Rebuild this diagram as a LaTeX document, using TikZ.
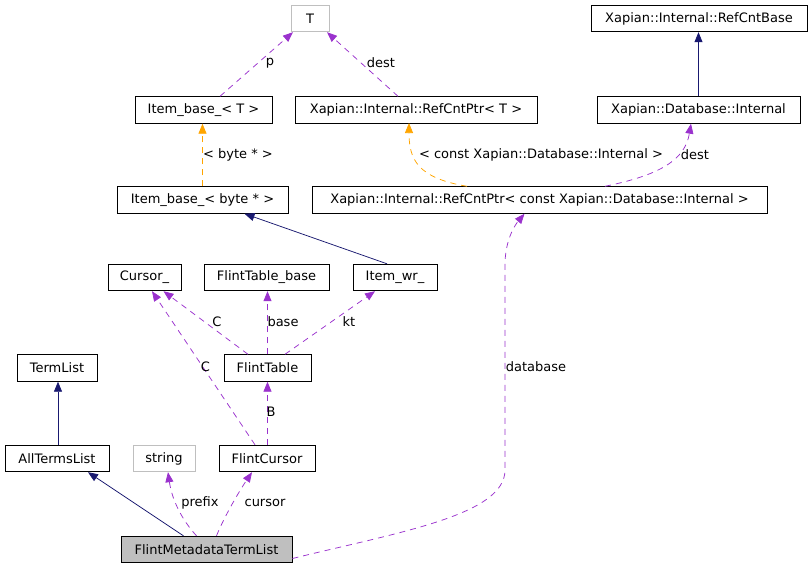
\documentclass[tikz,border=0pt]{standalone}
\usepackage{fontspec}
\setmainfont{DejaVu Sans}
\usetikzlibrary{arrows.meta}
\definecolor{dpurple}{HTML}{9A32CD}
\definecolor{dnavy}{HTML}{191970}
\definecolor{dorange}{HTML}{FFA500}
\definecolor{dgray}{HTML}{BFBFBF}
\tikzset{
  box/.style={draw=black, line width=0.9pt, inner sep=0pt, minimum height=26.5pt, font=\fontsize{13}{15}\selectfont},
  graybox/.style={box, draw=dgray},
  tip/.style={-{Triangle[length=10pt,width=8pt]}},
  pe/.style={tip, draw=dpurple, line width=0.75pt, dash pattern=on 6pt off 5pt},
  oe/.style={tip, draw=dorange, line width=0.75pt, dash pattern=on 6pt off 5pt},
  ne/.style={tip, draw=dnavy, line width=0.75pt},
  lbl/.style={inner sep=0pt, font=\fontsize{13}{15}\selectfont}
}
\begin{document}
\begin{tikzpicture}[x=1pt,y=-1pt]
\useasboundingbox (0,0) rectangle (812,568);
% nodes
\node[graybox, minimum width=38pt] (T) at (310,18.5) {T};
\node[box, minimum width=137pt] (ibT) at (203.5,110) {Item\_base\_< T >};
\node[box, minimum width=242pt] (rcpT) at (416,110) {Xapian::Internal::RefCntPtr< T >};
\node[box, minimum width=216pt] (rcb) at (699,18.5) {Xapian::Internal::RefCntBase};
\node[box, minimum width=203pt] (dbi) at (698.5,110) {Xapian::Database::Internal};
\node[box, minimum width=171pt] (ibb) at (202.5,200) {Item\_base\_< byte * >};
\node[box, minimum width=455pt] (rcpc) at (539.5,200) {Xapian::Internal::RefCntPtr< const Xapian::Database::Internal >};
\node[box, minimum width=73pt] (cur) at (144.5,277.5) {Cursor\_};
\node[box, minimum width=125pt] (ftb) at (266.5,277.5) {FlintTable\_base};
\node[box, minimum width=84pt] (iwr) at (395,277.5) {Item\_wr\_};
\node[box, minimum width=80pt] (tl) at (57,368) {TermList};
\node[box, minimum width=87pt] (ft) at (267.5,368) {FlintTable};
\node[box, minimum width=104pt] (atl) at (57,458.5) {AllTermsList};
\node[graybox, minimum width=62pt] (str) at (164,458.5) {string};
\node[box, minimum width=96pt] (fc) at (267,458.5) {FlintCursor};
\node[box, minimum width=171pt, fill=dgray] (fmtl) at (206.5,549.5) {FlintMetadataTermList};
% edges
\draw[pe] ([xshift=16.5pt]ibT.north) -- ([xshift=-17pt]T.south);
\draw[pe] ([xshift=-18pt]rcpT.north) -- ([xshift=17pt]T.south);
\draw[ne] (dbi.north) -- (dbi.north |- rcb.south);
\draw[oe] (ibb.north) -- (ibb.north |- ibT.south);
\draw[oe] ([xshift=-72.5pt]rcpc.north) .. controls (418,178) and (409,160) .. (409,123);
\draw[pe] ([xshift=65.5pt]rcpc.north) .. controls (660,175) and (685,160) .. ([xshift=-7.5pt]dbi.south);
\draw[ne] ([xshift=-8pt]iwr.north) -- ([xshift=42pt]ibb.south);
\draw[pe] ([xshift=-19.5pt]ft.north) -- ([xshift=19pt]cur.south);
\draw[pe] ([xshift=0pt]ft.north) -- (ft.north |- ftb.south);
\draw[pe] ([xshift=17.5pt]ft.north) -- ([xshift=-20pt]iwr.south);
\draw[pe] ([xshift=-12pt]fc.north) -- ([xshift=7.5pt]cur.south);
\draw[pe] (fc.north -| ft.north) -- (ft.south);
\draw[ne] ([xshift=1pt]atl.north) -- ([xshift=1pt]tl.south);
\draw[ne] ([xshift=-23pt]fmtl.north) -- ([xshift=31pt]atl.south);
\draw[pe] ([xshift=-10pt]fmtl.north) .. controls (182,520) and (172,500) .. ([xshift=4pt]str.south);
\draw[pe] ([xshift=10pt]fmtl.north) .. controls (225,515) and (240,490) .. ([xshift=-15pt]fc.south);
\draw[pe] ([yshift=-9pt]fmtl.east) .. controls (400,532) and (505,515) .. (505,470) -- (505,265) .. controls (505,240) and (515,225) .. ([xshift=-15pt]rcpc.south);
% labels
\node[lbl] (lp) at (270,63) {p};
\node[lbl] (ldest1) at (381,63) {dest};
\node[lbl] (lbyte) at (238,155) {< byte * >};
\node[lbl] (lconst) at (541,155) {< const Xapian::Database::Internal >};
\node[lbl] (ldest2) at (695,155) {dest};
\node[lbl] (lC1) at (217,322) {C};
\node[lbl] (lbase) at (283,322) {base};
\node[lbl] (lkt) at (349,322) {kt};
\node[lbl] (lC2) at (205.5,367) {C};
\node[lbl] (lB) at (271,412) {B};
\node[lbl] (lprefix) at (200,503) {prefix};
\node[lbl] (lcursor) at (265,503) {cursor};
\node[lbl] (ldb) at (536,367) {database};
\end{tikzpicture}
\end{document}
